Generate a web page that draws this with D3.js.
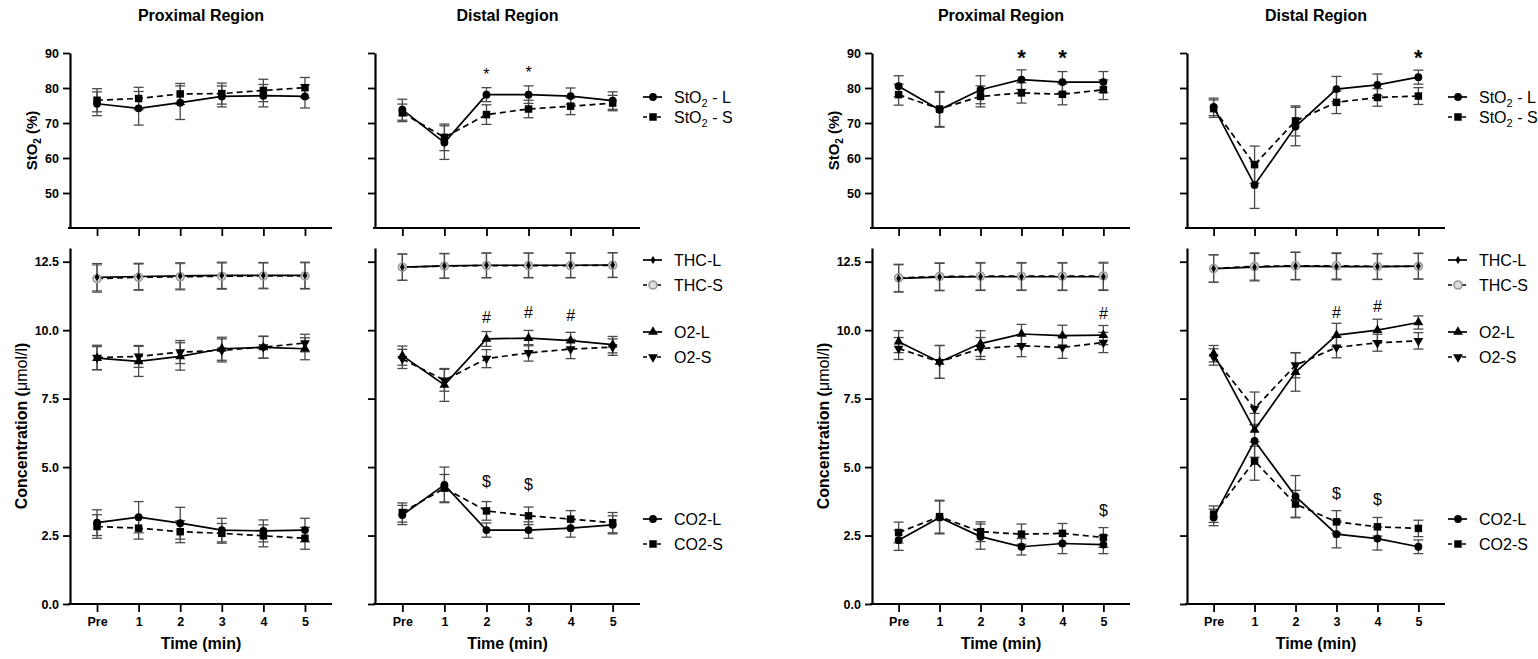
<!DOCTYPE html>
<html>
<head>
<meta charset="utf-8">
<script src="https://cdn.jsdelivr.net/npm/d3@7"></script>
<style>
  body { margin: 0; background: #fff; }
  svg { display: block; }
  text { font-family: "Liberation Sans", Arial, sans-serif; }
</style>
</head>
<body>
<svg id="chart" width="1538" height="659"></svg>
<script>

// ---- data ----------------------------------------------------------------

const timeLabels = ['Pre', '1', '2', '3', '4', '5'];
const sto2Ticks = [50, 60, 70, 80, 90];
const concTicks = [0, 2.5, 5, 7.5, 10, 12.5];

// left figure, proximal region
const p1StO2L = [75.5, 74.2, 75.8, 77.6, 77.8, 77.6];
const p1StO2LErr = [3.4, 4.8, 4.8, 3.0, 3.2, 3.3];
const p1StO2S = [76.5, 77.0, 78.3, 78.4, 79.3, 80.1];
const p1StO2SErr = [3.3, 3.2, 3.0, 3.0, 3.2, 2.9];
const p1THCL = [11.93, 11.96, 11.98, 12.0, 12.0, 12.0];
const p1THCS = [11.88, 11.93, 11.95, 11.97, 11.98, 11.98];
const p1THCErr = [0.5, 0.48, 0.48, 0.48, 0.47, 0.48];
const p1O2L = [8.98, 8.86, 9.04, 9.32, 9.37, 9.32];
const p1O2LErr = [0.42, 0.55, 0.5, 0.42, 0.4, 0.4];
const p1O2S = [9.0, 9.04, 9.2, 9.26, 9.38, 9.53];
const p1O2SErr = [0.45, 0.4, 0.42, 0.42, 0.4, 0.32];
const p1CO2L = [2.97, 3.17, 2.95, 2.7, 2.67, 2.7];
const p1CO2LErr = [0.47, 0.57, 0.58, 0.43, 0.4, 0.43];
const p1CO2S = [2.83, 2.77, 2.64, 2.58, 2.49, 2.4];
const p1CO2SErr = [0.43, 0.4, 0.4, 0.36, 0.4, 0.4];

// left figure, distal region
const d1StO2L = [73.8, 64.4, 78.1, 78.1, 77.7, 76.4];
const d1StO2LErr = [3.0, 4.8, 2.0, 2.5, 2.3, 2.5];
const d1StO2S = [72.9, 65.9, 72.4, 74.0, 74.8, 75.7];
const d1StO2SErr = [2.5, 3.8, 2.8, 2.5, 2.4, 2.2];
const d1THCL = [12.3, 12.35, 12.37, 12.37, 12.37, 12.38];
const d1THCS = [12.3, 12.34, 12.36, 12.36, 12.36, 12.37];
const d1THCErr = [0.48, 0.45, 0.45, 0.45, 0.45, 0.45];
const d1O2L = [9.07, 8.0, 9.68, 9.71, 9.62, 9.47];
const d1O2LErr = [0.35, 0.6, 0.27, 0.28, 0.3, 0.3];
const d1O2S = [8.95, 8.17, 8.96, 9.17, 9.31, 9.38];
const d1O2SErr = [0.35, 0.4, 0.33, 0.3, 0.35, 0.3];
const d1CO2L = [3.25, 4.35, 2.7, 2.7, 2.77, 2.89];
const d1CO2LErr = [0.35, 0.65, 0.26, 0.3, 0.33, 0.33];
const d1CO2S = [3.34, 4.23, 3.4, 3.22, 3.1, 2.97];
const d1CO2SErr = [0.35, 0.5, 0.34, 0.32, 0.31, 0.37];

// right figure, proximal region
const p2StO2L = [80.5, 73.8, 79.5, 82.4, 81.7, 81.7];
const p2StO2LErr = [3.0, 5.0, 4.0, 2.8, 3.0, 3.0];
const p2StO2S = [78.1, 74.0, 77.6, 78.6, 78.2, 79.5];
const p2StO2SErr = [3.0, 5.0, 3.0, 2.9, 3.0, 2.8];
const p2THCL = [11.89, 11.94, 11.95, 11.95, 11.95, 11.95];
const p2THCS = [11.91, 11.96, 11.97, 11.97, 11.97, 11.98];
const p2THCErr = [0.5, 0.5, 0.5, 0.5, 0.5, 0.5];
const p2O2L = [9.58, 8.84, 9.51, 9.86, 9.8, 9.82];
const p2O2LErr = [0.4, 0.6, 0.47, 0.35, 0.38, 0.35];
const p2O2S = [9.33, 8.84, 9.33, 9.43, 9.37, 9.55];
const p2O2SErr = [0.4, 0.6, 0.4, 0.4, 0.4, 0.37];
const p2CO2L = [2.33, 3.16, 2.46, 2.09, 2.21, 2.17];
const p2CO2LErr = [0.37, 0.6, 0.46, 0.3, 0.37, 0.33];
const p2CO2S = [2.61, 3.19, 2.64, 2.55, 2.58, 2.43];
const p2CO2SErr = [0.38, 0.6, 0.36, 0.37, 0.36, 0.36];

// right figure, distal region
const d2StO2L = [74.6, 52.3, 69.0, 79.7, 80.9, 83.1];
const d2StO2LErr = [2.5, 6.7, 5.5, 3.6, 3.1, 2.0];
const d2StO2S = [74.1, 58.1, 70.6, 75.9, 77.3, 77.7];
const d2StO2SErr = [2.5, 5.3, 4.3, 3.2, 2.5, 2.4];
const d2THCL = [12.25, 12.3, 12.34, 12.32, 12.32, 12.34];
const d2THCS = [12.25, 12.33, 12.35, 12.35, 12.33, 12.33];
const d2THCErr = [0.5, 0.5, 0.5, 0.48, 0.47, 0.47];
const d2O2L = [9.14, 6.36, 8.47, 9.82, 10.0, 10.28];
const d2O2LErr = [0.3, 0.6, 0.7, 0.43, 0.4, 0.24];
const d2O2S = [9.02, 7.14, 8.72, 9.37, 9.54, 9.61];
const d2O2SErr = [0.3, 0.6, 0.46, 0.38, 0.31, 0.3];
const d2CO2L = [3.16, 5.96, 3.93, 2.55, 2.39, 2.09];
const d2CO2LErr = [0.3, 0.6, 0.76, 0.5, 0.42, 0.25];
const d2CO2S = [3.28, 5.22, 3.65, 3.0, 2.82, 2.76];
const d2CO2SErr = [0.3, 0.7, 0.5, 0.41, 0.34, 0.3];

// significance marks: [time index, value at mark centre]
const d1Stars = [[2, 85.0], [3, 85.6]];
const d1Hash = [[2, 10.48], [3, 10.63], [4, 10.55]];
const d1Dollar = [[2, 4.49], [3, 4.35]];
const p2Stars = [[3, 90.7], [4, 90.7]];
const p2Hash = [[5, 10.6]];
const p2Dollar = [[5, 3.43]];
const d2Stars = [[5, 90.7]];
const d2Hash = [[3, 10.66], [4, 10.85]];
const d2Dollar = [[3, 4.02], [4, 3.8]];


// ---- layout --------------------------------------------------------------

const svg = d3.select('#chart');

const topRange = [228, 53];      // StO2 panels, 40..90
const botRange = [604, 248];     // concentration panels, 0..13

const markers = {
  circle:  { sym: d3.symbolCircle,   size: 48, fill: '#000' },
  square:  { sym: d3.symbolSquare,   size: 56, fill: '#000' },
  triUp:   { sym: d3.symbolTriangle, size: 42, fill: '#000' },
  triDown: { sym: d3.symbolTriangle, size: 42, fill: '#000', rot: 180 },
  diamond: { sym: d3.symbolDiamond,  size: 20, fill: '#000' },
  ring:    { sym: d3.symbolCircle,   size: 50, fill: '#dcdcdc', stroke: '#999', sw: 1.6 }
};

function drawMarker(g, type, x, y) {
  let m = markers[type];
  g.append('path')
    .attr('d', d3.symbol(m.sym, m.size)())
    .attr('transform', `translate(${x},${y})` + (m.rot ? ` rotate(${m.rot})` : ''))
    .attr('fill', m.fill)
    .attr('stroke', m.stroke || 'none')
    .attr('stroke-width', m.sw || 0);
}


/**
 * One panel: axes, error bars, lines, markers.
 */
function drawPanel(opt) {

  let g = svg.append('g');

  let x = d3.scaleLinear().domain([-0.65, 5.65]).range(opt.xr);
  let y = d3.scaleLinear().domain(opt.domain).range(opt.yr);

  // y axis
  let ya = d3.axisLeft(y).tickValues(opt.ticks).tickSize(7).tickSizeOuter(0).tickPadding(4)
    .tickFormat(opt.yLabels ? opt.fmt : '');
  let yg = g.append('g').attr('transform', `translate(${opt.xr[0]},0)`).call(ya);

  // x axis
  let xa = d3.axisBottom(x).tickValues(d3.range(6)).tickSize(8).tickSizeOuter(0).tickPadding(5)
    .tickFormat(opt.xLabels ? (i => timeLabels[i]) : '');
  let xg = g.append('g').attr('transform', `translate(0,${opt.yr[0]})`).call(xa);

  [yg, xg].forEach(a => {
    a.select('.domain').attr('stroke', '#000').attr('stroke-width', 2.2);
    a.selectAll('.tick line').attr('stroke', '#000').attr('stroke-width', 1.8);
    a.selectAll('.tick text').attr('fill', '#000').attr('font-size', 12.5).attr('font-weight', 'bold')
      .style('font-family', '"Liberation Sans", Arial, sans-serif');
  });
  xg.select('.domain').attr('d', `M${opt.xr[0] - 2},0H${opt.xr[1]}`);

  // error bars
  opt.series.forEach(s => {
    s.vals.forEach((v, i) => {
      let cx = x(i), e = s.err[i];
      let c = s.eColor || '#4a4a4a';
      g.append('line').attr('x1', cx).attr('x2', cx).attr('y1', y(v - e)).attr('y2', y(v + e))
        .attr('stroke', c).attr('stroke-width', 1.3);
      [v - e, v + e].forEach(t => {
        g.append('line').attr('x1', cx - 5).attr('x2', cx + 5).attr('y1', y(t)).attr('y2', y(t))
          .attr('stroke', c).attr('stroke-width', 1.3);
      });
    });
  });

  // lines
  let line = d3.line().x((d, i) => x(i)).y(d => y(d));
  opt.series.forEach(s => {
    g.append('path').attr('d', line(s.vals))
      .attr('fill', 'none').attr('stroke', '#000').attr('stroke-width', 1.7)
      .attr('stroke-dasharray', s.dash ? '6,4' : null);
  });

  // markers
  opt.series.forEach(s => {
    s.vals.forEach((v, i) => drawMarker(g, s.m, x(i), y(v)));
  });

  // significance marks
  (opt.marks || []).forEach(mk => {
    mk.at.forEach(([i, v]) => {
      g.append('text').attr('x', x(i)).attr('y', y(v))
        .attr('text-anchor', 'middle').attr('dominant-baseline', 'central')
        .attr('dy', mk.dy || 0)
        .attr('font-size', mk.size).attr('font-weight', mk.bold ? 'bold' : 'normal')
        .text(mk.sym);
    });
  });

  return g;
}


function drawLegend(x1, rows) {
  let g = svg.append('g');
  rows.forEach(r => {
    g.append('line').attr('x1', x1 + 3).attr('x2', x1 + 22).attr('y1', r.y).attr('y2', r.y)
      .attr('stroke', '#000').attr('stroke-width', 1.7)
      .attr('stroke-dasharray', r.dash ? '4,3' : null);
    drawMarker(g, r.m, x1 + 13, r.y);
    let t = g.append('text').attr('x', x1 + 34).attr('y', r.y).attr('dy', '0.35em')
      .attr('font-size', 16).attr('fill', '#000');
    if (r.sub) {
      t.append('tspan').text('StO');
      t.append('tspan').attr('font-size', 11).attr('dy', 4).text('2');
      t.append('tspan').attr('dy', -4).text(r.label);
    } else {
      t.text(r.label);
    }
  });
}


// ---- figures -------------------------------------------------------------

const groups = [
  {
    prox: [70, 332], dist: [375, 640],
    p: { sL: p1StO2L, sLE: p1StO2LErr, sS: p1StO2S, sSE: p1StO2SErr,
         tL: p1THCL, tS: p1THCS, tE: p1THCErr, oL: p1O2L, oLE: p1O2LErr, oS: p1O2S, oSE: p1O2SErr,
         cL: p1CO2L, cLE: p1CO2LErr, cS: p1CO2S, cSE: p1CO2SErr },
    d: { sL: d1StO2L, sLE: d1StO2LErr, sS: d1StO2S, sSE: d1StO2SErr,
         tL: d1THCL, tS: d1THCS, tE: d1THCErr, oL: d1O2L, oLE: d1O2LErr, oS: d1O2S, oSE: d1O2SErr,
         cL: d1CO2L, cLE: d1CO2LErr, cS: d1CO2S, cSE: d1CO2SErr },
    pStars: [], dStars: d1Stars, starBig: false,
    pHash: [], pDollar: [], dHash: d1Hash, dDollar: d1Dollar
  },
  {
    prox: [872, 1130], dist: [1187, 1445],
    p: { sL: p2StO2L, sLE: p2StO2LErr, sS: p2StO2S, sSE: p2StO2SErr,
         tL: p2THCL, tS: p2THCS, tE: p2THCErr, oL: p2O2L, oLE: p2O2LErr, oS: p2O2S, oSE: p2O2SErr,
         cL: p2CO2L, cLE: p2CO2LErr, cS: p2CO2S, cSE: p2CO2SErr },
    d: { sL: d2StO2L, sLE: d2StO2LErr, sS: d2StO2S, sSE: d2StO2SErr,
         tL: d2THCL, tS: d2THCS, tE: d2THCErr, oL: d2O2L, oLE: d2O2LErr, oS: d2O2S, oSE: d2O2SErr,
         cL: d2CO2L, cLE: d2CO2LErr, cS: d2CO2S, cSE: d2CO2SErr },
    pStars: p2Stars, dStars: d2Stars, starBig: true,
    pHash: p2Hash, pDollar: p2Dollar, dHash: d2Hash, dDollar: d2Dollar
  }
];

function stoSeries(r) {
  return [
    { vals: r.sS, err: r.sSE, m: 'square', dash: true },
    { vals: r.sL, err: r.sLE, m: 'circle', dash: false }
  ];
}

function concSeries(r) {
  return [
    { vals: r.tS, err: r.tE, m: 'ring', dash: true, eColor: '#777' },
    { vals: r.tL, err: r.tE, m: 'diamond', dash: false },
    { vals: r.oS, err: r.oSE, m: 'triDown', dash: true },
    { vals: r.oL, err: r.oLE, m: 'triUp', dash: false },
    { vals: r.cS, err: r.cSE, m: 'square', dash: true },
    { vals: r.cL, err: r.cLE, m: 'circle', dash: false }
  ];
}

groups.forEach(gr => {

  let starMark = at => ({ at: at, sym: '*', size: gr.starBig ? 22 : 16, bold: gr.starBig, dy: gr.starBig ? '0.3em' : '0.25em' });
  let hashMark = at => ({ at: at, sym: '#', size: 16 });
  let dollarMark = at => ({ at: at, sym: '$', size: 16 });

  [['prox', 'p', 'Proximal Region'], ['dist', 'd', 'Distal Region']].forEach(([key, k, title]) => {

    let xr = gr[key];
    let isProx = key === 'prox';

    drawPanel({
      xr: xr, yr: topRange, domain: [40, 90], ticks: sto2Ticks, fmt: d3.format('d'),
      yLabels: isProx, xLabels: false, series: stoSeries(gr[k]),
      marks: [starMark(gr[k + 'Stars'])]
    });

    drawPanel({
      xr: xr, yr: botRange, domain: [0, 13], ticks: concTicks, fmt: d3.format('.1f'),
      yLabels: isProx, xLabels: true, series: concSeries(gr[k]),
      marks: [hashMark(gr[k + 'Hash']), dollarMark(gr[k + 'Dollar'])]
    });

    let cx = (xr[0] + xr[1]) / 2;

    svg.append('text').attr('x', cx).attr('y', 21).attr('text-anchor', 'middle')
      .attr('font-size', 16).attr('font-weight', 'bold').text(title);

    svg.append('text').attr('x', cx).attr('y', 649).attr('text-anchor', 'middle')
      .attr('font-size', 16).attr('font-weight', 'bold').text('Time (min)');

    if (isProx) {
      // StO2 label
      let t1 = svg.append('text')
        .attr('transform', `translate(${xr[0] - 33},${(topRange[0] + topRange[1]) / 2}) rotate(-90)`)
        .attr('text-anchor', 'middle').attr('font-size', 15).attr('font-weight', 'bold');
      t1.append('tspan').text('StO');
      t1.append('tspan').attr('font-size', 10).attr('dy', 4).text('2');
      t1.append('tspan').attr('dy', -4).text(' (%)');

      // concentration label
      let t2 = svg.append('text')
        .attr('transform', `translate(${xr[0] - 43},${(botRange[0] + botRange[1]) / 2}) rotate(-90)`)
        .attr('text-anchor', 'middle').attr('font-size', 16).attr('font-weight', 'bold');
      t2.append('tspan').text('Concentration (');
      t2.append('tspan').attr('font-weight', 'normal').text('\u03bcmol/l');
      t2.append('tspan').text(')');
    } else {
      drawLegend(xr[1], [
        { y: 97, m: 'circle', dash: false, sub: true, label: ' - L' },
        { y: 117, m: 'square', dash: true, sub: true, label: ' - S' }
      ]);
      drawLegend(xr[1], [
        { y: 260, m: 'diamond', dash: false, label: 'THC-L' },
        { y: 285, m: 'ring', dash: true, label: 'THC-S' },
        { y: 332, m: 'triUp', dash: false, label: 'O2-L' },
        { y: 357, m: 'triDown', dash: true, label: 'O2-S' },
        { y: 519, m: 'circle', dash: false, label: 'CO2-L' },
        { y: 544, m: 'square', dash: true, label: 'CO2-S' }
      ]);
    }
  });
});

</script>
</body>
</html>
